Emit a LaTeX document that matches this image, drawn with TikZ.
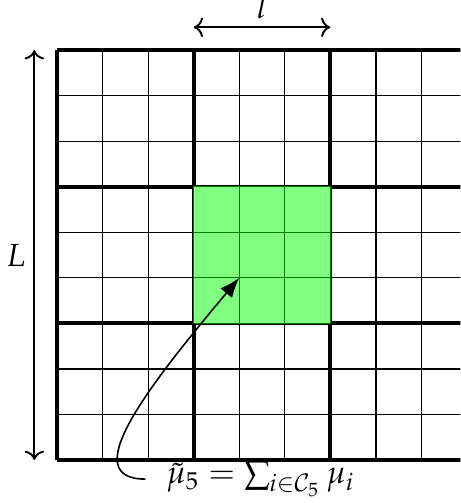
\documentclass[tikz,border=0pt]{standalone}
\usepackage{mathpazo}
\usetikzlibrary{arrows.meta}

\begin{document}
\begin{tikzpicture}[
        x=0.5cm, y=0.5cm,
        fine/.style={line width=0.4pt},
        coarse/.style={line width=1.2pt},
        block/.style={fill=green!50, draw=green!50!black, line width=0.4pt},
        span/.style={<->, semithick},
        pointer/.style={-{Latex[length=2.2mm]}, line width=0.5pt}
    ]
        \clip (-1.253,-0.945) rectangle (8.857,10.099);

        % fine and coarse grid
        \draw[fine, step=0.5cm] (0,0) grid (9,9);
        \foreach \k in {0,3,6,9} {
            \draw[coarse] (\k,0) -- (\k,9);
            \draw[coarse] (0,\k) -- (9,\k);
        }

        % highlighted coarse cell
        \draw[block] (3,3) rectangle (6,6);
        \draw[fine, green!50!black, step=0.5cm] (3,3) grid (6,6);
        \coordinate (centre) at (4,4);

        % sizes
        \coordinate (ltop) at (3,9.5);
        \coordinate (rtop) at (6,9.5);
        \draw[span] (ltop) -- node[above=-1pt] (lsmall) {$l$} (rtop);
        \coordinate (tleft) at (-0.5,9);
        \coordinate (bleft) at (-0.5,0);
        \draw[span] (tleft) -- node[left=-1pt] (lbig) {$L$} (bleft);

        \node (sum) at (4.47,-0.42)
            {$\tilde{\mu}_5 = \sum_{i\in\mathcal{C}_5}\mu_i$};
        \draw[pointer] ([xshift=-3pt]sum.west) .. controls +(-1.5,0) and (1.9,1.5) ..
            (centre);
    \end{tikzpicture}
\end{document}
